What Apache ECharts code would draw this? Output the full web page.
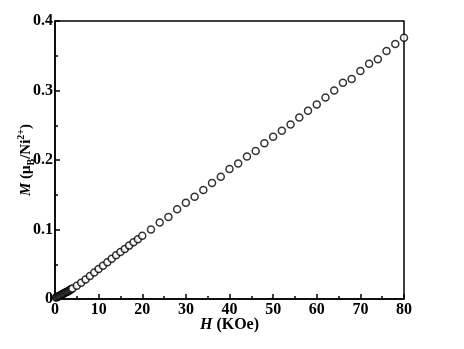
<!DOCTYPE html>
<html>
<head>
<meta charset="utf-8">
<script src="https://cdn.jsdelivr.net/npm/echarts@6/dist/echarts.min.js"></script>
<style>
  html, body { margin: 0; padding: 0; background: #fff; }
  #chart { width: 464px; height: 349px; }
</style>
</head>
<body>
<div id="chart"></div>
<script>
// field H (kOe) and magnetization M (muB/Ni2+)
var fieldH = [
  0.2, 0.4, 0.6, 0.8, 1.0, 1.2, 1.4, 1.6, 1.8, 2.0,
  2.2, 2.4, 2.6, 2.8, 3.0, 3.2, 3.4, 3.6, 3.8, 4.0,
  5, 6, 7, 8, 9, 10, 11, 12, 13, 14, 15, 16, 17, 18, 19, 20,
  22, 24, 26, 28, 30, 32, 34, 36, 38, 40, 42, 44, 46, 48, 50,
  52, 54, 56, 58, 60, 62, 64, 66, 68, 70, 72, 74, 76, 78, 80
];
var magM = [
  0.0020, 0.0026, 0.0032, 0.0038, 0.0044, 0.0050, 0.0057, 0.0064, 0.0071, 0.0078,
  0.0085, 0.0092, 0.0099, 0.0106, 0.0113, 0.0120, 0.0128, 0.0136, 0.0144, 0.0152,
  0.0190, 0.0235, 0.0280, 0.0330, 0.0380, 0.0430, 0.0480, 0.0530, 0.0580, 0.0630,
  0.0675, 0.0720, 0.0768, 0.0815, 0.0860, 0.0910,
  0.1000, 0.1100, 0.1180, 0.1290, 0.1386, 0.1470, 0.1570, 0.1670, 0.1760, 0.1870,
  0.1950, 0.2050, 0.2130, 0.2240, 0.2336, 0.2420, 0.2510, 0.2610, 0.2710, 0.2800,
  0.2900, 0.3000, 0.3110, 0.3166, 0.3280, 0.3386, 0.3450, 0.3570, 0.3670, 0.3760
];

var font = 'Liberation Serif';
var black = '#000';

var points = [];
for (var i = 0; i < fieldH.length; i++) {
  points.push([fieldH[i], magM[i]]);
}

var chart = echarts.init(document.getElementById('chart'), null, { renderer: 'canvas' });

var option = {
  backgroundColor: '#fff',
  animation: false,
  grid: {
    left: 55,
    right: 60,
    top: 21,
    bottom: 50,
    outerBoundsMode: 'none',
    containLabel: false,
    show: true,
    borderColor: black,
    borderWidth: 1.5,
    backgroundColor: 'transparent'
  },
  xAxis: {
    type: 'value',
    min: 0,
    max: 80,
    interval: 10,
    name: '{i|H} (KOe)',
    nameLocation: 'middle',
    nameGap: 18,
    nameMoveOverlap: false,
    nameTextStyle: {
      fontFamily: font,
      fontWeight: 'bold',
      fontSize: 16,
      color: black,
      rich: {
        i: { fontFamily: font, fontWeight: 'bold', fontStyle: 'italic', fontSize: 16, color: black }
      }
    },
    axisLine: { show: true, lineStyle: { color: black, width: 1.5 } },
    axisTick: { show: true, inside: true, length: 5, lineStyle: { color: black, width: 1.5 } },
    minorTick: { show: true, splitNumber: 2, length: 3, lineStyle: { color: black, width: 1.5 } },
    splitLine: { show: false },
    axisLabel: {
      margin: 3,
      fontFamily: font,
      fontWeight: 'bold',
      fontSize: 16,
      color: black
    }
  },
  yAxis: {
    type: 'value',
    min: 0,
    max: 0.4,
    interval: 0.1,
    name: '{i|M} (μ{sub|B}/Ni{sup|2+})',
    nameLocation: 'middle',
    nameGap: 19,
    nameMoveOverlap: false,
    nameRotate: 90,
    nameTextStyle: {
      fontFamily: font,
      fontWeight: 'bold',
      fontSize: 15,
      color: black,
      lineHeight: 20,
      rich: {
        i: { fontFamily: font, fontWeight: 'bold', fontStyle: 'italic', fontSize: 15, color: black, lineHeight: 20 },
        sub: { fontFamily: font, fontWeight: 'bold', fontSize: 10, color: black, verticalAlign: 'bottom', lineHeight: 20 },
        sup: { fontFamily: font, fontWeight: 'bold', fontSize: 10, color: black, verticalAlign: 'top', lineHeight: 20 }
      }
    },
    axisLine: { show: true, lineStyle: { color: black, width: 1.5 } },
    axisTick: { show: true, inside: true, length: 5, lineStyle: { color: black, width: 1.5 } },
    minorTick: { show: true, splitNumber: 2, length: 3, lineStyle: { color: black, width: 1.5 } },
    splitLine: { show: false },
    axisLabel: {
      margin: 2,
      fontFamily: font,
      fontWeight: 'bold',
      fontSize: 16,
      color: black,
      formatter: function (v) { return v === 0 ? '0' : v.toFixed(1); }
    }
  },
  series: [{
    type: 'scatter',
    data: points,
    symbol: 'circle',
    symbolSize: 7,
    itemStyle: {
      color: '#fff',
      borderColor: black,
      borderWidth: 1.5
    }
  }]
};

chart.setOption(option);
</script>
</body>
</html>
